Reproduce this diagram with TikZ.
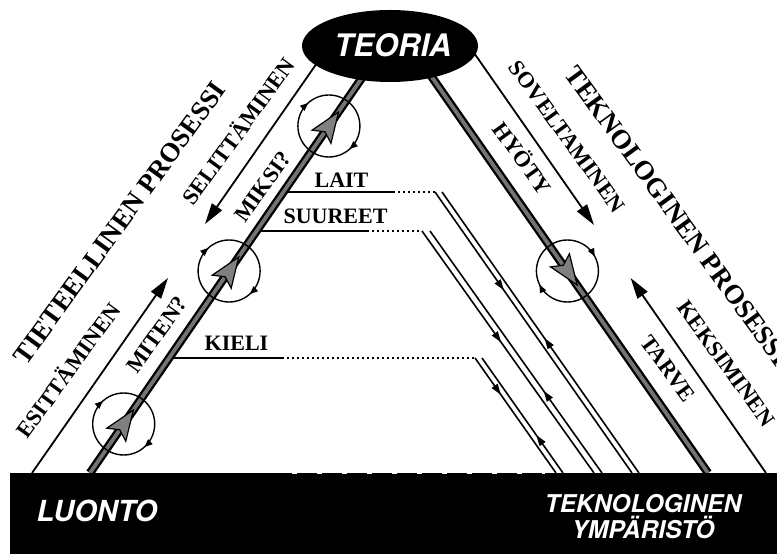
\documentclass[tikz,border=0pt]{standalone}
\usepackage{fontspec}
\setmainfont{Liberation Serif}
\newfontfamily\heros{TeX Gyre Heros}
\usetikzlibrary{arrows.meta,decorations.markings,shapes.geometric}
\begin{document}
\begin{tikzpicture}[x=1pt,y=1pt,
  lbl/.style={font=\fontsize{22.5}{26}\selectfont\bfseries, inner sep=0pt, text height=1.5ex, text depth=0pt},
  biglbl/.style={font=\fontsize{27}{30}\selectfont\bfseries, inner sep=0pt, text height=1.5ex, text depth=0pt},
  hlbl/.style={font=\fontsize{22}{24}\selectfont\bfseries, inner sep=0pt, anchor=base},
  sanslbl/.style={font=\heros\bfseries\itshape\fontsize{#1}{#1}\selectfont, text=white, inner sep=0pt, anchor=base},
  outerline/.style={line width=1.8pt},
  bigtip/.style={-{Triangle[length=21pt,width=12pt]}},
  bandout/.style={line width=8.5pt, black},
  bandin/.style={line width=3.8pt, black!55},
  hline/.style={line width=1.8pt},
  dotline/.style={line width=1.8pt, dash pattern=on 1.8pt off 3.2pt},
  pairline/.style={line width=1.6pt, postaction={decorate},
    decoration={markings, mark=at position #1 with {\arrow{Triangle[length=11pt,width=7pt]}}}},
  turnline/.style={line width=1.4pt},
  smalltip/.style={line width=1.4pt, -{Triangle[length=8pt,width=6.5pt]}},
  bigarrow/.pic={\filldraw[fill=black!50, draw=black, line width=1.2pt] (17,0) -- (-13,11.5) -- (-7,0) -- (-13,-11.5) -- cycle;}
]
\useasboundingbox (0,0) rectangle (777,554);
\clip (0,0) rectangle (777,554);

% named points
\coordinate (tlBot) at (32,81);   \coordinate (tlTop) at (333,514);
\coordinate (esitTip) at (168,276); \coordinate (selitTip) at (205,330);
\coordinate (trBot) at (766,81);  \coordinate (trTop) at (465,514);
\coordinate (keksTip) at (630.6,276); \coordinate (soveTip) at (594,329);
\coordinate (bLBot) at (90,81);   \coordinate (bLTop) at (388,514);
\coordinate (bRBot) at (708,81);  \coordinate (bRTop) at (406,514);
\coordinate (c1) at (123.7,130);
\coordinate (c2) at (229.1,283);
\coordinate (c3) at (328.9,428);
\coordinate (cR) at (567.4,283);

% middle lines: LAIT
\coordinate (laitA) at (284,362); \coordinate (laitB) at (393,362); \coordinate (laitC) at (435,362);
\coordinate (laitD) at (632,81);  \coordinate (laitE) at (442,362); \coordinate (laitF) at (639,81);
% SUUREET
\coordinate (suuA) at (256.6,323); \coordinate (suuB) at (367,323); \coordinate (suuC) at (422,323);
\coordinate (suuD) at (594,81);   \coordinate (suuE) at (430,323); \coordinate (suuF) at (602,81);
% KIELI
\coordinate (kieA) at (169,196); \coordinate (kieB) at (282,196); \coordinate (kieC) at (475,196);
\coordinate (kieD) at (556,81);  \coordinate (kieE) at (482,196); \coordinate (kieF) at (563,81);

\draw[hline] (laitA) -- (laitB); \draw[dotline] (laitB) -- (laitC);
\draw[pairline=0.35] (laitC) -- (laitD);
\draw[pairline=0.48] (laitF) -- (laitE);
\draw[hline] (suuA) -- (suuB); \draw[dotline] (suuB) -- (suuC);
\draw[pairline=0.46] (suuC) -- (suuD);
\draw[pairline=0.34] (suuF) -- (suuE);
\draw[hline] (kieA) -- (kieB); \draw[dotline] (kieB) -- (kieC);
\draw[pairline=0.32] (kieC) -- (kieD);
\draw[pairline=0.33] (kieF) -- (kieE);

% outer thin arrows
\draw[outerline, bigtip] (tlBot) -- (esitTip);
\draw[outerline, bigtip] (tlTop) -- (selitTip);
\draw[outerline, bigtip] (trBot) -- (keksTip);
\draw[outerline, bigtip] (trTop) -- (soveTip);

% thick bands
\draw[bandout] (bLBot) -- (bLTop); \draw[bandin] (bLBot) -- (bLTop);
\draw[bandout] (bRBot) -- (bRTop); \draw[bandin] (bRBot) -- (bRTop);

% circles with turning arrows
\foreach \c in {c1,c2,c3} {
  \draw[turnline] (\c) circle[radius=31];
  \draw[smalltip] ([shift={(148:31)}]\c) arc[start angle=148, end angle=132, radius=31];
  \draw[smalltip] ([shift={(-32:31)}]\c) arc[start angle=-32, end angle=-48, radius=31];
  \path (\c) pic[rotate=55.45] {bigarrow};
}
\draw[turnline] (cR) circle[radius=31];
\draw[smalltip] ([shift={(44:31)}]cR) arc[start angle=44, end angle=28, radius=31];
\draw[smalltip] ([shift={(222:31)}]cR) arc[start angle=222, end angle=206, radius=31];
\path (cR) pic[rotate=-55.15] {bigarrow};

% TEORIA ellipse
\node[ellipse, fill=black, minimum width=176pt, minimum height=72pt, inner sep=0pt] (teoria) at (390,508) {};
\node[sanslbl=31] (teoriaText) at (393,497) {TEORIA};

% ground bar
\node[fill=black, minimum width=767pt, minimum height=81pt, inner sep=0pt, anchor=south west] (ground) at (10,0) {};
\draw[white, line width=2pt, dash pattern=on 5pt off 20pt] (292,80.5) -- (545,80.5);
\node[sanslbl=29] (luonto) at (97,32) {LUONTO};
\node[sanslbl=24.5] (tekno) at (643,41) {TEKNOLOGINEN};
\node[sanslbl=24.5] (ymp) at (643,15) {YMPÄRISTÖ};

% horizontal labels
\node[hlbl] (lait) at (341.5,366) {LAIT};
\node[hlbl] (suureet) at (335.5,330) {SUUREET};
\node[hlbl] (kieli) at (236.5,203) {KIELI};

% rotated labels left
\node[biglbl, rotate=54] (tiet) at (124,328) {TIETEELLINEN PROSESSI};
\node[lbl, rotate=54] (esit) at (72,181) {ESITTÄMINEN};
\node[lbl, rotate=54] (miten) at (160,217) {MITEN?};
\node[lbl, rotate=54] (selit) at (242,420) {SELITTÄMINEN};
\node[lbl, rotate=54] (miksi) at (266,365) {MIKSI?};
% rotated labels right
\node[biglbl, rotate=-54] (tekpro) at (673,335) {TEKNOLOGINEN PROSESSI};
\node[lbl, rotate=-54] (sove) at (564,415) {SOVELTAMINEN};
\node[lbl, rotate=-54] (hyoty) at (519,393) {HYÖTY};
\node[lbl, rotate=-54] (keks) at (723,188) {KEKSIMINEN};
\node[lbl, rotate=-54] (tarve) at (665,183) {TARVE};
\end{tikzpicture}
\end{document}
